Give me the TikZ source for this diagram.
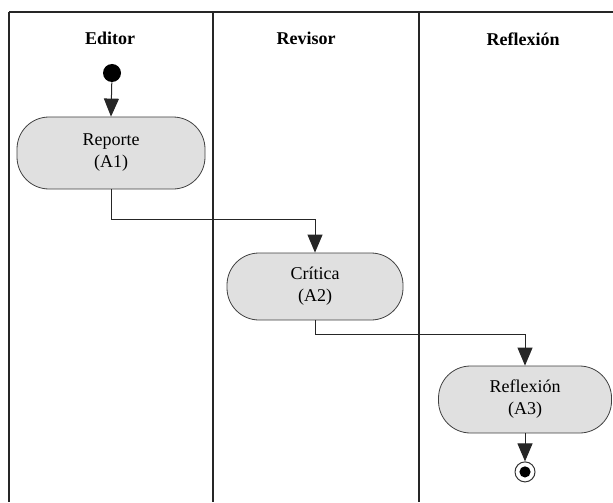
\documentclass[tikz,border=0pt]{standalone}
\usepackage{fontspec}
\setmainfont{Liberation Serif}
\usetikzlibrary{arrows.meta,positioning}

\begin{document}
\begin{tikzpicture}[x=0.5pt, y=-0.5pt,
    lane/.style={draw=black!85},
    lanehead/.style={font=\fontsize{9}{11}\selectfont\bfseries},
    activity/.style={draw=black!75, fill=black!12, rounded corners=16pt,
      align=center, inner sep=0pt, font=\fontsize{9}{11}\selectfont},
    flow/.style={draw=black!85, line width=0.5pt, -{Triangle[length=9pt,width=7.5pt]}}]
  \useasboundingbox (0,0) rectangle (613,502);
  % swimlanes
  \draw[lane, line width=1pt] (9,12) -- (613,12);
  \draw[lane, line width=0.8pt] (9,12) -- (9,502);
  \draw[lane, line width=0.8pt] (213,12) -- (213,502);
  \draw[lane, line width=1.3pt] (419,12) -- (419,502);
  \node[lanehead] (editor) at (110,38) {Editor};
  \node[lanehead] (revisor) at (306,38) {Revisor};
  \node[lanehead] (reflexion) at (523,39) {Reflexión};
  % activities
  \node[circle, fill=black, inner sep=0pt, minimum size=9pt] (start) at (112,73) {};
  \node[activity, minimum width=94pt, minimum height=36pt] (a1) at (111,153) {Reporte\\(A1)};
  \node[activity, minimum width=88pt, minimum height=33.5pt] (a2) at (315,286.5) {Crítica\\(A2)};
  \node[activity, minimum width=86.5pt, minimum height=33.5pt] (a3) at (525,399.5) {Reflexión\\(A3)};
  \node[circle, draw=black!80, line width=0.5pt, inner sep=0pt, minimum size=10pt,
    below=14pt of a3] (stop) {};
  \fill (stop.center) circle (2.8pt);
  % flows
  \draw[flow] (start) -- (a1.north);
  \draw[flow] (a1.south) -- ++(0,30) -| (a2.north);
  \draw[flow] (a2.south) -- ++(0,14) -| (a3.north);
  \draw[flow] (a3.south) -- (stop.north);
\end{tikzpicture}
\end{document}
